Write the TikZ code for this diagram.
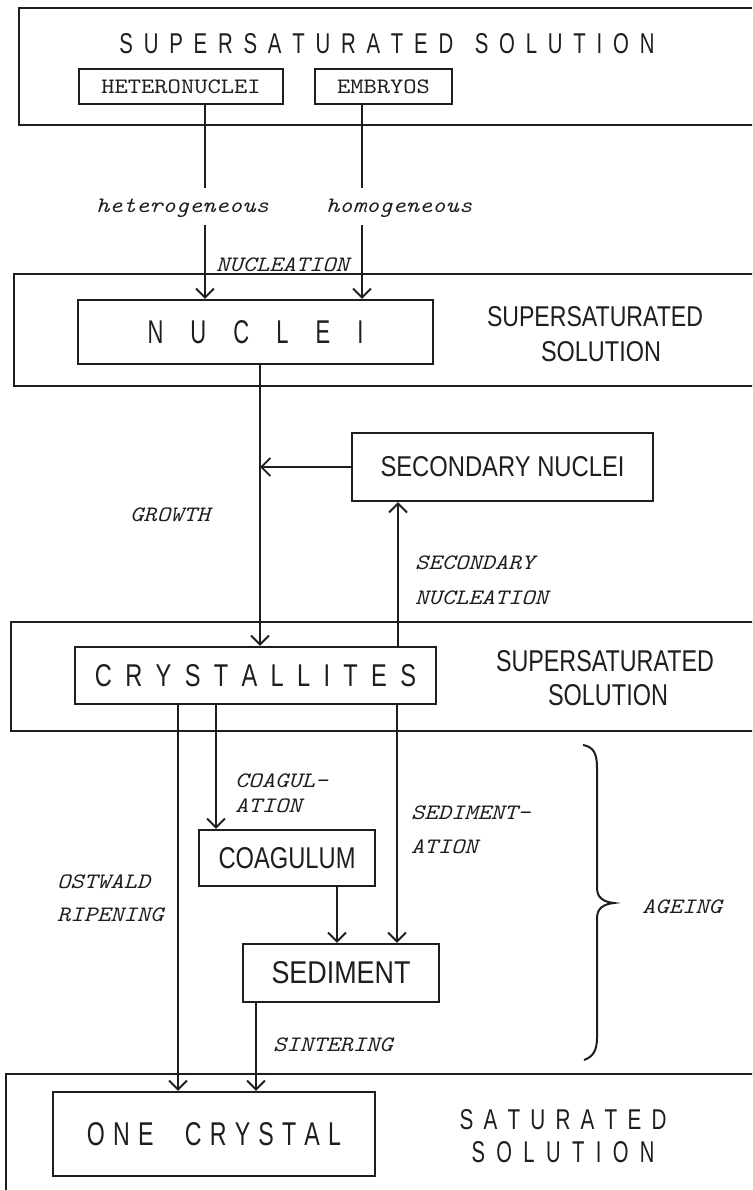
\documentclass[tikz,border=0pt]{standalone}
\usepackage{fontspec}
\usepackage{graphicx}
\usetikzlibrary{arrows.meta}
\newfontfamily\cnd{Liberation Sans}[FakeStretch=0.85]
\newfontfamily\labf{lmmono10-italic.otf}[FakeStretch=1.15]
\newfontfamily\ttf{lmmono10-regular.otf}[FakeStretch=1.15]
\definecolor{ink}{HTML}{1E1E1E}
\makeatletter
\newcommand\spreadout[2]{{\def\sp@sep{}\@tfor\sp@tok:=#2\do{\sp@sep\sp@tok\def\sp@sep{\hspace{#1}}}}}
\makeatother
\newcommand\fitbox[3]{\resizebox{#1}{#2}{#3}}
\tikzset{
  frame/.style={draw=ink, line width=2.4pt},
  box/.style={draw=ink, line width=2.3pt, inner sep=0pt, text=ink},
  arr/.style={draw=ink, line width=1.9pt, -{Straight Barb[length=9pt,width=18pt]}},
  conn/.style={draw=ink, line width=1.9pt},
  lab/.style={anchor=base west, inner sep=0pt, text=ink, font=\labf\fontsize{22}{24}\selectfont},
  big/.style={inner sep=0pt, text=ink, font=\cnd\fontsize{28}{30}\selectfont},
  tw/.style={font=\ttf\fontsize{22}{24}\selectfont},
  bracepath/.style={draw=ink, line width=2pt},
}
\begin{document}
\begin{tikzpicture}[x=1pt,y=-1pt]
\useasboundingbox (0,0) rectangle (752,1190);
\clip (0,0) rectangle (752,1190);
\fill[white] (0,0) rectangle (752,1190);

% outer frames
\draw[frame] (19,8) rectangle (800,125);
\draw[frame] (14,274) rectangle (800,386);
\draw[frame] (11,622) rectangle (800,731);
\draw[frame] (6,1074) rectangle (800,1240);

% frame texts
\node[big] (t1) at (387,44) {\fitbox{535pt}{20pt}{\spreadout{.45em}{SUPERSATURATED}\hspace{.9em}\spreadout{.45em}{SOLUTION}}};
\node[big] (t2a) at (595,317) {\fitbox{216pt}{20pt}{SUPERSATURATED}};
\node[big] (t2b) at (601,352) {\fitbox{120pt}{20pt}{SOLUTION}};
\node[big] (t3a) at (605,661) {\fitbox{218pt}{21pt}{SUPERSATURATED}};
\node[big] (t3b) at (608,695) {\fitbox{120pt}{21pt}{SOLUTION}};
\node[big] (t4a) at (563,1120) {\fitbox{207pt}{20pt}{\spreadout{.42em}{SATURATED}}};
\node[big] (t4b) at (563,1152) {\fitbox{183pt}{21pt}{\spreadout{.48em}{SOLUTION}}};

% boxes
\node[box, tw, minimum width=204pt, minimum height=35pt] (het) at (181,86.5) {HETERONUCLEI};
\node[box, tw, minimum width=137pt, minimum height=35pt] (emb) at (383.5,86.5) {EMBRYOS};
\node[box, big, minimum width=355pt, minimum height=64pt] (nuc) at (255.5,332) {\fitbox{216pt}{23pt}{\spreadout{1.05em}{NUCLEI}}};
\node[box, big, minimum width=301pt, minimum height=68pt] (sec) at (502.5,467) {\fitbox{244pt}{20pt}{SECONDARY NUCLEI}};
\node[box, big, minimum width=361pt, minimum height=57pt] (cry) at (255.5,675.5) {\fitbox{321pt}{22pt}{\spreadout{.48em}{CRYSTALLITES}}};
\node[box, big, minimum width=176pt, minimum height=56pt] (coag) at (287,858) {\fitbox{137pt}{21pt}{COAGULUM}};
\node[box, big, minimum width=196pt, minimum height=58pt] (sed) at (341,973) {\fitbox{139pt}{22pt}{SEDIMENT}};
\node[box, big, minimum width=322pt, minimum height=84pt] (one) at (214,1134) {\fitbox{254pt}{23pt}{\spreadout{.3em}{ONE}\hspace{1.15em}\spreadout{.3em}{CRYSTAL}}};

% ports
\coordinate (hA) at ([xshift=24pt]het.south);
\coordinate (eA) at ([xshift=-21.5pt]emb.south);
\coordinate (nA) at ([xshift=4.5pt]nuc.south);
\coordinate (cA) at ([xshift=-77.5pt]cry.south);
\coordinate (cB) at ([xshift=-39.5pt]cry.south);
\coordinate (cC) at ([xshift=141.5pt]cry.south);
\coordinate (cD) at ([xshift=142.5pt]cry.north);
\coordinate (kA) at ([xshift=50pt]coag.south);
\coordinate (sA) at ([xshift=-85pt]sed.south);
\coordinate (gt) at (0,188);
\coordinate (gb) at (0,225);

% connectors
\draw[conn] (hA) -- (hA |- gt);
\draw[arr] (hA |- gb) -- (hA |- nuc.north);
\draw[conn] (eA) -- (eA |- gt);
\draw[arr] (eA |- gb) -- (eA |- nuc.north);
\draw[arr] (nA) -- (nA |- cry.north);
\draw[arr] (sec.west) -- (sec.west -| nA);
\draw[arr] (cD) -- (cD |- sec.south);
\draw[arr] (cA) -- (cA |- one.north);
\draw[arr] (cB) -- (cB |- coag.north);
\draw[arr] (cC) -- (cC |- sed.north);
\draw[arr] (kA) -- (kA |- sed.north);
\draw[arr] (sA) -- (sA |- one.north);

% labels
\node[lab] (l1) at (96,213) {heterogeneous};
\node[lab] (l2) at (326,213) {homogeneous};
\node[lab] (l3) at (216,271) {NUCLEATION};
\node[lab] (l4) at (130,521) {GROWTH};
\node[lab] (l5a) at (415,569) {SECONDARY};
\node[lab] (l5b) at (415,604) {NUCLEATION};
\node[lab] (l6a) at (235,787) {COAGUL-};
\node[lab] (l6b) at (235,812) {ATION};
\node[lab] (l7a) at (411,819) {SEDIMENT-};
\node[lab] (l7b) at (411,853) {ATION};
\node[lab] (l8a) at (57,888) {OSTWALD};
\node[lab] (l8b) at (57,921) {RIPENING};
\node[lab] (l9) at (642,913) {AGEING};
\node[lab] (l10) at (273,1051) {SINTERING};

% brace
\draw[bracepath] (583,745) .. controls (594,747) and (597,754) .. (597,768)
  -- (597,888) .. controls (597,898) and (604,902) .. (614,903)
  .. controls (604,904) and (597,908) .. (597,918)
  -- (597,1038) .. controls (597,1050) and (593,1057) .. (584,1060);
\end{tikzpicture}
\end{document}
